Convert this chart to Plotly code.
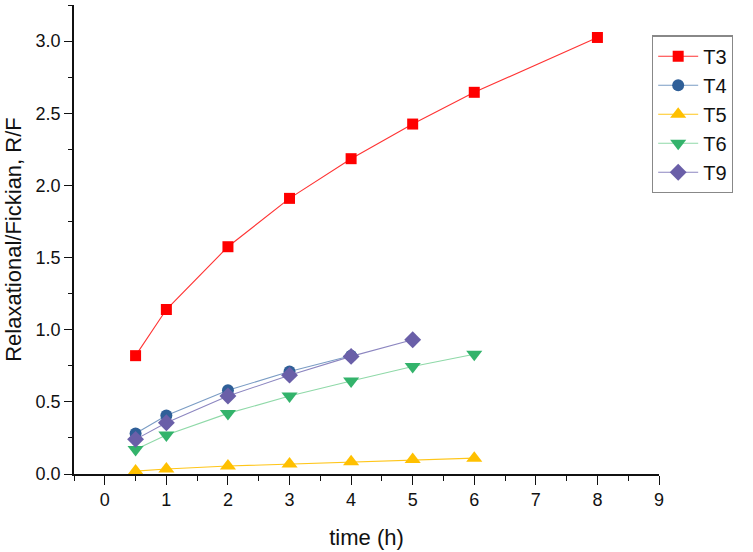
import plotly.graph_objects as go

t3_x = [0.5, 1, 2, 3, 4, 5, 6, 8]
t3_y = [0.82, 1.14, 1.575, 1.91, 2.185, 2.425, 2.645, 3.025]
t4_x = [0.5, 1, 2, 3, 4]
t4_y = [0.28, 0.405, 0.58, 0.71, 0.82]
t5_x = [0.5, 1, 2, 3, 4, 5, 6]
t5_y = [0.02, 0.035, 0.055, 0.07, 0.085, 0.10, 0.11]
t6_x = [0.5, 1, 2, 3, 4, 5, 6]
t6_y = [0.17, 0.27, 0.42, 0.54, 0.645, 0.745, 0.83]
t9_x = [0.5, 1, 2, 3, 4, 5]
t9_y = [0.24, 0.355, 0.54, 0.685, 0.815, 0.93]

series = [
    ("T3", t3_x, t3_y, "#ff0000", "#ff3333", "square", 11),
    ("T4", t4_x, t4_y, "#2f5f98", "#7a9cc4", "circle", 12),
    ("T5", t5_x, t5_y, "#ffc000", "#ffc61a", "triangle-up", 14),
    ("T6", t6_x, t6_y, "#33b36b", "#8fd9a8", "triangle-down", 14),
    ("T9", t9_x, t9_y, "#6a5fa8", "#8c86c0", "diamond", 13),
]

fig = go.Figure()
for name, xs, ys, mc, lc, sym, sz in series:
    fig.add_trace(go.Scatter(
        x=xs, y=ys, name=name, mode="lines+markers",
        line=dict(color=lc, width=1.1),
        marker=dict(symbol=sym, size=sz, color=mc, line=dict(width=0)),
    ))

fig.update_layout(
    width=753, height=552,
    margin=dict(l=74, r=94, t=5, b=78),
    paper_bgcolor="white", plot_bgcolor="white",
    font=dict(family="Liberation Sans, Arial, sans-serif", color="#111111"),
    showlegend=True,
    legend=dict(
        x=0.988, xanchor="left", y=0.935, yanchor="top",
        bordercolor="#888888", borderwidth=1.2, bgcolor="white",
        font=dict(size=20), tracegroupgap=0, itemwidth=40,
    ),
)
fig.update_xaxes(
    range=[-0.5, 9], tickmode="linear", tick0=0, dtick=1,
    showline=True, linecolor="#111111", linewidth=1.5,
    ticks="outside", ticklen=9, tickwidth=1.3, tickcolor="#111111",
    minor=dict(ticks="outside", ticklen=5, tickwidth=1.1, tickcolor="#111111", dtick=0.5, tick0=0),
    showgrid=False, zeroline=False,
    tickfont=dict(size=18),
    title=dict(text="time (h)", font=dict(size=22), standoff=20),
)
fig.update_yaxes(
    range=[0, 3.25], tickmode="linear", tick0=0, dtick=0.5, tickformat=".1f",
    showline=True, linecolor="#111111", linewidth=1.5,
    ticks="outside", ticklen=8, tickwidth=1.3, tickcolor="#111111",
    minor=dict(ticks="outside", ticklen=4, tickwidth=1.1, tickcolor="#111111", dtick=0.25, tick0=0),
    showgrid=False, zeroline=False,
    tickfont=dict(size=18),
    title=dict(text="Relaxational/Fickian, R/F", font=dict(size=22), standoff=8),
)

fig.write_html("out.html", config={"displayModeBar": False},
               post_script="document.body.style.margin='0px';")
